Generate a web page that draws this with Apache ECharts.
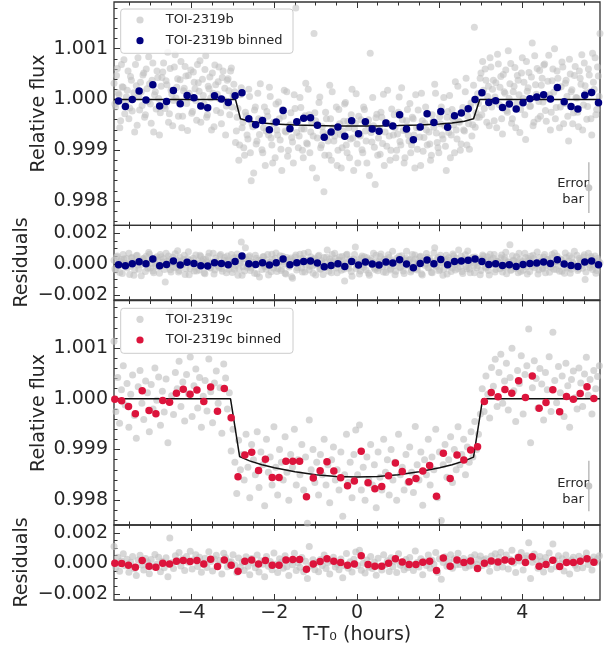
<!DOCTYPE html>
<html>
<head>
<meta charset="utf-8">
<script src="https://cdn.jsdelivr.net/npm/echarts@6/dist/echarts.min.js"></script>
<style>
  html, body { margin: 0; padding: 0; background: #fff; }
  #chart { width: 609px; height: 648px; }
</style>
</head>
<body>
<div id="chart"></div>
<script>
// ticks
const xTicks = [-4, -2, 0, 2, 4];
const xMinorTicks = [-5.5, -5, -4.5, -3.5, -3, -2.5, -1.5, -1, -0.5, 0.5, 1, 1.5, 2.5, 3, 3.5, 4.5, 5, 5.5];
const fluxTicks = [0.998, 0.999, 1.000, 1.001];
const fluxMinorTicks = [0.9976, 0.9978, 0.9982, 0.9984, 0.9986, 0.9988, 0.9992, 0.9994, 0.9996, 0.9998,
  1.0002, 1.0004, 1.0006, 1.0008, 1.0012, 1.0014, 1.0016, 1.0018];
const resTicks = [-0.002, 0, 0.002];
const resMinorTicks = [-0.0015, -0.001, -0.0005, 0.0005, 0.001, 0.0015];

// TOI-2319b : unbinned points (ppm from 1.0), two interleaved time grids (start / step in hours)
const bGreyStart = -5.88, bGreyStart2 = -5.86, bGreyStep = 0.04;
const bGreyFlux = [
  320, -150, 610, 90, -420, 250, 780, -60, 180, -380,
  450, -230, 130, 690, -510, 60, 340, -120, 520, -300,
  210, 840, -90, 380, -640, 150, 560, 20, -260, 430,
  720, -180, 290, -450, 610, 100, -20, 880, 240, -330,
  390, -560, 170, 650, -80, 470, 30, -270, 540, 210,
  -410, 330, 760, -140, 80, 590, -350, 260, 440, -600,
  120, 680, -220, 350, 10, -480, 560, 220, -130, 410,
  -300, 620, 80, 150, -620, -180, -900, 230, -450, -1100,
  -320, -780, 60, -1600, -540, -210, -880, 120, -690, -400,
  -1050, -150, -620, -330, 240, -760, -1250, -480, -90, -700,
  -380, -980, -200, 180, -640, -1120, -520, -260, -840, 90,
  1800, -450, -720, -160, -1000, -580, 320, -880, -300, -640,
  -1350, 1300, -420, -760, -60, -950, -540, -1820, -250, -700,
  -1100, -380, 150, -820, -600, -1300, -200, -690, -950, -430,
  -60, -1050, -560, -780, 200, -1400, -470, -880, -330, -720,
  -990, -150, -620, -1250, -400, 910, -840, -520, -1676, -290,
  -760, -1080, -350, 100, -640, -920, -480, -1200, -190, -700,
  -560, -1000, -250, -830, 230, -610, -1150, -420, -700, -80,
  -900, -380, -1350, -560, -210, -740, 120, -1020, -470, -600,
  -280, -880, -1100, -430, 300, -660, -950, -340, -150, -780,
  -520, -1400, -240, 80, -700, -380, -1050, -600, 260, -450,
  -880, -160, -620, 420, -330, -980, -70, -500, 1421, -260,
  110, -350, 520, 750, -180, 380, 60, -520, 640, 200,
  -420, 330, 890, -100, 450, -680, 150, 580, -250, 20,
  710, -380, 260, -560, 470, 90, -200, 820, 340, -790,
  160, 530, -130, 1113, -450, 290, 610, -40, -330, 420,
  680, -220, 50, 870, -600, 370, 140, -380, 560, 230,
  -150, 740, -480, 320, 60, -820, 500, 190, -260, 650,
  30, -540, 420, 880, -110, 270, -390, 600, 150, -700,
  340, 820, -200, 460, 1300
];
const bGreyFlux2 = [
  -90, 470, 130, -560, 690, 240, -280, 50, 560, -170,
  380, 10, -640, 270, 820, -210, 150, 480, -350, 600,
  -40, 310, -470, 720, 90, -190, 430, -700, 260, 540,
  -120, 370, 930, -280, 180, -520, 640, 30, 410, -60,
  750, -330, 220, 460, -610, 120, 580, -240, 340, -20,
  690, 160, -450, 400, -90, 860, -300, 210, 30, 520,
  -540, 290, 100, 640, -260, 430, -10, -700, 380, 170,
  560, -150, 300, -850, -350, -1200, 90, -560, -950, -250,
  -700, 200, -1050, -480, -1450, -150, -820, -380, 310, -990,
  -560, -1300, -240, -700, 60, -900, -450, -1150, -600, -50,
  -800, -1400, -330, -620, 150, -1000, -500, -750, -1250, -180,
  -650, -950, 40, -580, -1150, -320, -860, 200, -1050, -450,
  -720, -260, -1550, -500, 50, -900, -650, -1100, -380, -820,
  280, -1200, -560, -720, -150, -1000, -480, -1350, -620, -90,
  -900, -430, -1150, -300, -760, -580, 110, -1250, -690, -400,
  -1050, -200, -820, -500, -1500, -650, 40, -940, -360, -1100,
  -580, -250, -870, -1300, -450, 180, -720, -1000, -520, -300,
  -1150, -680, 50, -900, -400, -1250, -600, -200, -820, -1050,
  -350, -700, 90, -980, -560, -1300, -420, -750, -150, -900,
  -640, -1200, -300, -550, 120, -850, -1050, -480, -700, 40,
  -920, -350, -650, -1150, -200, -500, 350, -780, -430, -1000,
  -250, -600, 150, -900, -480, -150, -720, 280, -550, -350,
  -80, 420, -300, 180, 600, -450, 260, 820, -150, 380,
  50, -560, 700, 240, -380, 490, 120, -220, 960, 310,
  -470, 150, 630, -90, 380, -650, 520, 20, -300, 750,
  230, -140, 440, -520, 860, 100, -380, 570, 280, -50,
  700, -430, 360, 90, -250, 600, 1000, -160, 420, -560,
  250, 640, -80, 380, -330, 790, 150, -480, 470, 40,
  -250, 560, 300, -600, 720, 130, -140, 480, -380, 910,
  200, -300, 640, 60, 520
];
const bGreyRes = [
  250, -380, 520, -90, 170, -610, 330, 40, -260, 690,
  -140, 410, -720, 80, 560, -330, 210, -20, 380, -480,
  120, 750, -250, 300, -560, 20, 470, -180, 610, -90,
  340, -1160, 180, 520, -370, 90, -210, 660, 240, -520,
  430, -60, 290, -680, 150, 800, -300, 60, 380, -170,
  -450, 220, 570, -30, 310, -620, 140, 480, -240, 60,
  700, -380, 190, -90, 540, -280, 30, 420, -560, 260,
  -130, 620, 90, -340, 410, -720, 200, 1420, -180, -450,
  320, -90, 540, -260, 120, -600, 380, 20, -830, 240,
  460, -150, -340, 610, 80, -500, 300, -60, 720, -280,
  150, -420, 510, 40, -640, 260, -190, 390, -910, 110,
  580, -240, 80, 350, -520, 680, -60, 230, -380, 470,
  -150, 300, -700, 120, 560, -320, 20, 420, -230, 900,
  -470, 170, 610, -90, 360, -560, 240, -30, 490, -330,
  80, 640, -270, 190, -780, 330, 1100, -120, 280, -450,
  520, -210, 60, 400, -600, 230, -40, 700, -350, 150,
  -260, 480, 90, -520, 320, -140, 600, -380, 210, 40,
  -690, 370, 130, -220, 540, -450, 260, 820, -110, 300,
  -400, 160, 590, -300, 70, 450, -620, 220, -80, 680,
  -240, 360, -530, 140, 1050, -180, 420, -360, 90, -720,
  310, 560, -120, 230, -480, 650, -40, 380, -290, 120,
  500, -610, 270, -170, 840, -330, 60, 440, -560, 200,
  -90, 330, -420, 580, 110, -250, 470, -700, 260, 30,
  620, -350, 180, -60, 400, -520, 290, 760, -200, 100,
  -410, 540, 210, -290, 60, 690, -480, 160, -110, 430,
  -640, 240, 510, -150, 350, -30, 780, -380, 130, -250,
  460, -560, 290, 40, -200, 610, -340, 170, 520, -90,
  330, -470, 90, 720, -260, 180, -600, 400, 20, -180,
  560, -320, 250, -100, 450, -1000, 140, 690, -230, 370,
  -60, 520, -410, 220, 80
];
const bGreyRes2 = [
  -310, 460, 80, -540, 290, 620, -150, 360, -20, -680,
  410, 150, -390, 540, -60, 220, -760, 330, 90, 500,
  -270, 640, 40, -450, 380, -130, 260, -600, 470, 120,
  -350, 700, -80, 290, -520, 440, 60, -240, 860, -410,
  180, -30, 560, -300, 350, -690, 240, 100, -450, 590,
  20, -380, 480, 160, -560, 300, -90, 720, -260, 140,
  -640, 390, 50, -200, 610, -470, 230, -20, 520, -340,
  170, -550, 400, -110, 650, -300, 80, -720, 330, 1050,
  -200, 460, -420, 150, -80, 570, -630, 250, 30, -360,
  480, -150, 280, -700, 120, 640, -260, 370, -480, 60,
  540, -320, 170, -590, 420, -70, 290, -820, 200, 460,
  -380, 100, 630, -250, 340, -520, 170, 760, -140, 280,
  -600, 380, -40, 510, -330, 220, -680, 90, 440, -190,
  320, -560, 170, 700, -260, 40, 450, -400, 230, -1100,
  580, -120, 310, -480, 150, 620, -290, 80, -650, 390,
  -50, 470, -380, 210, -720, 340, 90, -260, 560, -430,
  190, 650, -170, 300, -540, 60, 420, -310, 830, -90,
  -460, 240, 510, -200, 130, -610, 380, -30, 250, -520,
  610, -140, 320, -380, 90, 500, -700, 230, 40, 440,
  -260, 150, -560, 720, -100, 300, -430, 560, 60, -330,
  180, -640, 410, 20, -250, 530, -380, 140, 900, -170,
  -480, 270, 600, -300, 80, -560, 380, -120, 460, -240,
  130, -690, 320, 500, -160, 250, -420, 640, -40, 370,
  -510, 200, 80, -300, 580, -230, 410, -620, 150, 1250,
  -350, 240, -90, 470, -560, 300, 60, -400, 690, -180,
  350, -480, 130, 560, -240, 20, -650, 420, 180, -300,
  610, -110, 270, -530, 390, -40, 720, -360, 150, -470,
  280, 60, -590, 430, -200, 540, -330, 100, 830, -150,
  -420, 350, 160, -270, 600, -520, 230, -80, 480, -360,
  140, -600, 360, 20, -250
];
// TOI-2319b : 10-minute bins (ppm)
const bBinStart = -5.77, bBinStep = 0.1659;
const bBinFlux = [
  -33, -138, 0, 164, -13, 288, -131, -39, 177, -85, 79, 33, -131, -164, 72, 7, -59, 72, 131, -380,
  -498, -413, -596, -445, -216, -576, -439, -373, -360, -511, -747, -642, -544, -727, -419, -675, -439, -583, -629, -465,
  -524, -301, -583, -792, -544, -282, -452, -236, -550, -321, -269, -183, 0, 131, -59, -26, -157, -92, -190, -65,
  13, 46, 92, 7, 236, -46, -138, -190, 85, 138, -65
];
const bBinRes = [
  -43, -108, 22, 151, 22, 323, -108, -22, 194, -65, 108, 43, -108, -129, 86, 43, -43, 172, 516, 22,
  -22, 86, -65, 86, 323, -43, 86, 172, 194, 65, -172, -86, 22, -151, 172, -60, 129, 0, -65, 129,
  65, 280, 0, -237, 43, 258, 22, 301, -43, 172, 194, 237, 323, 172, -22, 22, -86, -43, -151, -22,
  43, 65, 129, 43, 280, 0, -86, -151, 129, 194, -43
];
// TOI-2319b : transit model (ppm)
const bModelT = [-5.88, -2.94, -2.82, -2.6, -2.3, -2.0, -1.5, -1.0, -0.5, 0, 0.5, 1.0, 1.5, 2.0, 2.3, 2.6, 2.82, 2.97, 5.88];
const bModelFlux = [0, 0, -380, -430, -465, -485, -505, -515, -522, -524, -522, -515, -505, -485, -465, -430, -380, 0, 0];

// TOI-2319c : unbinned points (ppm)
const cGreyStart = -5.88, cGreyStep = 0.045;
const cGreyFlux = [
  1135, -250, 420, -480, 180, 650, -120, 300, -560, 90,
  470, -330, -780, 240, 560, -90, -410, 350, 120, -650,
  280, -200, 610, -30, 430, -520, 150, -260, 390, -865,
  1697, 60, -310, 520, 200, 740, -150, 330, -440, 480,
  100, 825, -350, 260, 590, -180, 420, -560, 50, 360,
  -240, 785, 140, -470, 310, 550, -90, 220, -680, 686,
  410, -200, 120,
  -1030, -600, -1250, -1868, -820, -1400, -1100,
  -1600, -700, -1350, -1950, -900, -1200, -1500, -650, -1750, -1050,
  -1300, -2112, -800, -1450, -1150, -1700, -550, -1350, -1900, -1000,
  -1250, -1600, -750, -1450, -2000, -1100, -1350, -600, -1700, -1200,
  -1500, -900, -1800, -1150, -2455, -416, -1400, -1000, -1650, -1250,
  -1900, -1100, -1500, -800, -1700, -1300, -2050, -1200, -950, -1600,
  -1400, -1800, -1050, -2317, -1500, -700, -1650, -1250, -1950, -1100,
  -614, -1500, -515, -1800, -1350, -2000, -1150, -1600, -900, -1700,
  -1300, -2150, -1050, -1550, -1800, -800, -1450, -1200, -1900, -1000,
  -1600, -1250, -2000, -700, -1500, -1350, -1800, -1100, -1650, -950,
  -1450, -1850, -548, -1300, -1600, -1050, -2100, -1200, -1500, -800,
  -1700, -1150, -1400, -600, -1950, -1050, -2403, -1300, -900, -1550,
  -1200, -750, -1650, -1000, -1400, -550, -1300, -1100, -800, -1500,
  -950, -1250, -650, -1150, -450, -1000, -700, -300,
  200, -250,
  450, 90, -380, 620, 250, 780, -150, 520, 880, -90,
  350, 700, -220, 420, 1000, 160, -450, 560, 300, 850,
  -300, 480, 650, 1380, -865, 220, 750, 400, -180, 600,
  290, -420, 520, 180, 830, -250, 1314, 360, -80, 640,
  120, 450, -350, 700, 260, -560, 380, 550, 20, -200,
  610, 310, -150, 490, 820, 70, 380, -300, 560, 200,
  440, 650
];
const cGreyRes = [
  1100, -280, 390, -520, 150, 620, -160, 270, -590, 60,
  440, -360, -810, 210, 530, -120, -440, 320, 90, -680,
  250, -230, 580, -60, 400, -550, 120, -290, 360, -890,
  1650, 30, -340, 490, 170, 710, -180, 300, -470, 450,
  70, 790, -380, 230, 560, -210, 390, -590, 20, 330,
  -270, 750, 110, -500, 280, 520, -120, 190, -710, 650,
  380, -230, 90, 100, 560, -120, -600, 350, -250, 60,
  -480, 420, -200, -760, 310, 20, -300, 550, -580, 170,
  -60, -880, 440, -190, 120, -420, 680, -70, -610, 300,
  60, -320, 500, -230, -800, 160, -90, 650, -470, 30,
  -260, 380, -550, 130, -1000, 1100, -150, 230, -420, 50,
  -560, 240, -150, 550, -350, 50, -700, 150, 400, -250,
  -60, -430, 280, -950, -160, 640, -320, 100, -580, 260,
  740, -140, 850, -460, 0, -640, 210, -260, 450, -340,
  60, -780, 330, -190, -440, 560, -100, 160, -540, 360,
  -230, 130, -600, 620, -130, 20, -420, 240, -290, 380,
  -80, -480, 800, 50, -240, 300, -760, 140, -150, 550,
  -330, 200, -60, 700, -600, 300, -1050, 50, 420, -200,
  120, 560, -330, 300, -100, 650, -80, 60, 320, -300,
  130, -180, 400, -120, 560, -60, 250, 480, -150, 220,
  300, -60, -530, 480, 100, 630, -300, 370, 730, -240,
  200, 550, -370, 270, 850, 10, -600, 410, 150, 700,
  -450, 330, 500, 1350, -1000, 70, 600, 250, -330, 450,
  140, -570, 370, 30, 680, -400, 1260, 210, -230, 490,
  -30, 300, -500, 550, 110, -710, 230, 400, -130, -350,
  460, 160, -300, 340, 670, -80, 230, -450, 410, 50,
  290, 500
];
// TOI-2319c : 10-minute bins (ppm)
const cBinStart = -5.86, cBinStep = 0.1656;
const cBinFlux = [
  -7, -40, -152, -297, 158, -231, -297, -33, -66, 112, 191, 92, 172, -53, 231, -244, 205, -376, -1538, -1109,
  -1056, -1413, -1195, -1551, -1551, -1234, -1234, -1234, -1934, -1564, -1419, -1241, -1426, -1558, -1716, -1624, -1036, -1657, -1776, -1729,
  -1518, -1267, -1432, -1637, -1571, -1426, -1314, -1921, -1076, -1571, -1109, -1208, -1010, -944, -53, 125, 40, 185, 112, 356,
  26, 449, -185, -73, 178, -257, 46, -7, 106, 238, 7, -139
];
const cBinRes = [
  0, -22, -130, -261, 174, -196, -261, 0, -43, 130, 174, 109, 174, -43, 261, -217, 217, -130, -522, 130,
  217, -43, 174, -130, -130, 217, 239, 239, -391, -43, 109, 304, 130, 43, -130, -43, 489, -87, -196, -196,
  0, 304, 87, -87, -87, 65, 130, -478, 348, -196, 217, 43, 152, -348, 0, 152, 87, 217, 130, 370,
  43, 435, -196, -87, 196, -217, 43, 43, 130, 304, 65, -65
];
// TOI-2319c : transit model (ppm)
const cModelT = [-5.88, -3.06, -2.84, -2.6, -2.3, -2.0, -1.5, -1.0, -0.5, 0, 0.5, 1.0, 1.5, 2.0, 2.3, 2.6, 2.82, 3.04, 5.88];
const cModelFlux = [0, 0, -1140, -1225, -1300, -1360, -1440, -1500, -1535, -1545, -1535, -1500, -1440, -1360, -1300, -1225, -1150, 0, 0];

// typical error bar (time, centre flux, half length)
const errT = 5.61;
const errB = [0.99826, 0.0005];
const errC = [0.99828, 0.0005];

const FONT = 'DejaVu Sans';
const TXT = '#262626';
const GREY = 'rgba(190,190,190,0.55)';
const BLUE = '#000080';
const RED = '#dc143c';

const grids = [
  { left: 114, right: 9, top: 2, height: 223.3 },
  { left: 114, right: 9, top: 225.3, height: 74.7 },
  { left: 114, right: 9, top: 300.5, height: 224.5 },
  { left: 114, right: 9, top: 525, height: 75 }
].map(g => Object.assign(g, { show: true, borderColor: '#333', borderWidth: 1.3, backgroundColor: 'transparent' }));

const yRanges = [[0.99752, 1.00192], [-0.00232, 0.0025], [0.99751, 1.00194], [-0.00241, 0.00251]];

function grid(start, step, n) {
  const t = [];
  for (let i = 0; i < n; i++) t.push(+(start + i * step).toFixed(4));
  return t;
}
function pts(ts, vals, base) {
  return vals.map((v, i) => [ts[i], base + v * 1e-6]);
}
function minus(s) { return s.replace('-', '\u2212'); }

const xAxes = [];
const yAxes = [];
for (let g = 0; g < 4; g++) {
  const mkX = (pos, vals, len, label) => ({
    type: 'value', gridIndex: g, min: -5.88, max: 5.88, position: pos,
    splitLine: { show: false }, axisLine: { show: false, onZero: false },
    axisTick: { show: true, inside: true, length: len, customValues: vals, lineStyle: { color: '#333', width: 1 } },
    axisLabel: label ? {
      show: true, customValues: vals, margin: 4, color: TXT, fontSize: 19, fontFamily: FONT,
      formatter: v => minus(String(v))
    } : { show: false }
  });
  xAxes.push(mkX('bottom', xTicks, 6, g === 3), mkX('bottom', xMinorTicks, 3.5, false),
             mkX('top', xTicks, 6, false), mkX('top', xMinorTicks, 3.5, false));

  const isFlux = g % 2 === 0;
  const mkY = (vals, len, label) => ({
    type: 'value', gridIndex: g, min: yRanges[g][0], max: yRanges[g][1], position: 'left',
    splitLine: { show: false }, axisLine: { show: false, onZero: false },
    axisTick: { show: true, inside: true, length: len, customValues: vals, lineStyle: { color: '#333', width: 1 } },
    axisLabel: label ? {
      show: true, customValues: vals, margin: 6, color: TXT, fontSize: 19, fontFamily: FONT,
      formatter: v => minus(v.toFixed(3))
    } : { show: false }
  });
  yAxes.push(mkY(isFlux ? fluxTicks : resTicks, 6, true), mkY(isFlux ? fluxMinorTicks : resMinorTicks, 3.5, false));
}

const bGreyT = grid(bGreyStart, bGreyStep, bGreyFlux.length);
const bGreyT2 = grid(bGreyStart2, bGreyStep, bGreyFlux2.length);
const cGreyT = grid(cGreyStart, cGreyStep, cGreyFlux.length);
const bBinT = grid(bBinStart, bBinStep, bBinFlux.length);
const cBinT = grid(cBinStart, cBinStep, cBinFlux.length);

function scatter(name, g, data, color, size, z) {
  return { name, type: 'scatter', xAxisIndex: 4 * g, yAxisIndex: 2 * g, data, symbol: 'circle',
    symbolSize: size, itemStyle: { color, opacity: 1 }, z, silent: true };
}
function line(name, g, data, color, width, z) {
  return { name, type: 'line', xAxisIndex: 4 * g, yAxisIndex: 2 * g, data, showSymbol: false,
    lineStyle: { color, width }, z, silent: true };
}

const series = [
  scatter('TOI-2319b', 0, pts(bGreyT, bGreyFlux, 1).concat(pts(bGreyT2, bGreyFlux2, 1)), GREY, 7, 2),
  line('model b', 0, pts(bModelT, bModelFlux, 1), '#111', 1.5, 3),
  scatter('TOI-2319b binned', 0, pts(bBinT, bBinFlux, 1), BLUE, 7.5, 4),
  scatter('TOI-2319b', 1, pts(bGreyT, bGreyRes, 0).concat(pts(bGreyT2, bGreyRes2, 0)), GREY, 7, 2),
  scatter('TOI-2319b binned', 1, pts(bBinT, bBinRes, 0), BLUE, 7.5, 4),

  scatter('TOI-2319c', 2, pts(cGreyT, cGreyFlux, 1), 'rgba(190,190,190,0.62)', 7, 2),
  line('model c', 2, pts(cModelT, cModelFlux, 1), '#111', 1.5, 3),
  scatter('TOI-2319c binned', 2, pts(cBinT, cBinFlux, 1), RED, 7.5, 4),
  scatter('TOI-2319c', 3, pts(cGreyT, cGreyRes, 0), 'rgba(190,190,190,0.62)', 7, 2),
  scatter('TOI-2319c binned', 3, pts(cBinT, cBinRes, 0), RED, 7.5, 4),

  line('error b', 0, [[errT, errB[0] - errB[1]], [errT, errB[0] + errB[1]]], '#bbb', 1.5, 2),
  scatter('error b dot', 0, [[errT, errB[0]]], 'rgba(190,190,190,0.85)', 7, 2),
  line('error c', 2, [[errT, errC[0] - errC[1]], [errT, errC[0] + errC[1]]], '#bbb', 1.5, 2),
  scatter('error c dot', 2, [[errT, errC[0]]], 'rgba(190,190,190,0.85)', 7, 2)
];

function text(str, x, y, size, rot, align) {
  return { type: 'text', x, y, rotation: rot || 0, z: 10, silent: true,
    style: { text: str, fontSize: size, fontFamily: FONT, fill: TXT, lineHeight: size === 13 ? 16 : size + 4,
      align: align || 'center', verticalAlign: 'middle', textAlign: align || 'center', textVerticalAlign: 'middle' } };
}
function box(y, h) {
  return { type: 'rect', z: 5, silent: true, shape: { x: 120.7, y, width: 172.3, height: h, r: 3 },
    style: { fill: 'rgba(255,255,255,0.8)', stroke: '#cccccc', lineWidth: 1 } };
}
function dot(y, color) {
  return { type: 'circle', z: 6, silent: true, shape: { cx: 140, cy: y, r: 3.6 }, style: { fill: color } };
}
// legend entries drawn by hand
function legendItems(names, colors, y0, y1) {
  return [dot(y0, colors[0]), dot(y1, colors[1]),
    text(names[0], 165.7, y0, 13, 0, 'left'), text(names[1], 165.7, y1, 13, 0, 'left')];
}

const chart = echarts.init(document.getElementById('chart'));
chart.setOption({
  animation: false,
  backgroundColor: '#fff',
  grid: grids,
  xAxis: xAxes,
  yAxis: yAxes,
  graphic: [
    box(9, 44.3), box(308.3, 45),
    ...legendItems(['TOI-2319b', 'TOI-2319b binned'], ['#d6d6d6', BLUE], 20, 40.7),
    ...legendItems(['TOI-2319c', 'TOI-2319c binned'], ['#d6d6d6', RED], 319.3, 340),
    text('Relative flux', 39, 113.5, 19, Math.PI / 2),
    text('Residuals', 22, 262.5, 19, Math.PI / 2),
    text('Relative flux', 39, 413, 19, Math.PI / 2),
    text('Residuals', 22, 562.5, 19, Math.PI / 2),
    text('T-T\u2080 (hours)', 357, 635, 19, 0),
    text('Error\nbar', 573, 192, 13, 0),
    text('Error\nbar', 573, 491.5, 13, 0)
  ],
  series
});
</script>
</body>
</html>
